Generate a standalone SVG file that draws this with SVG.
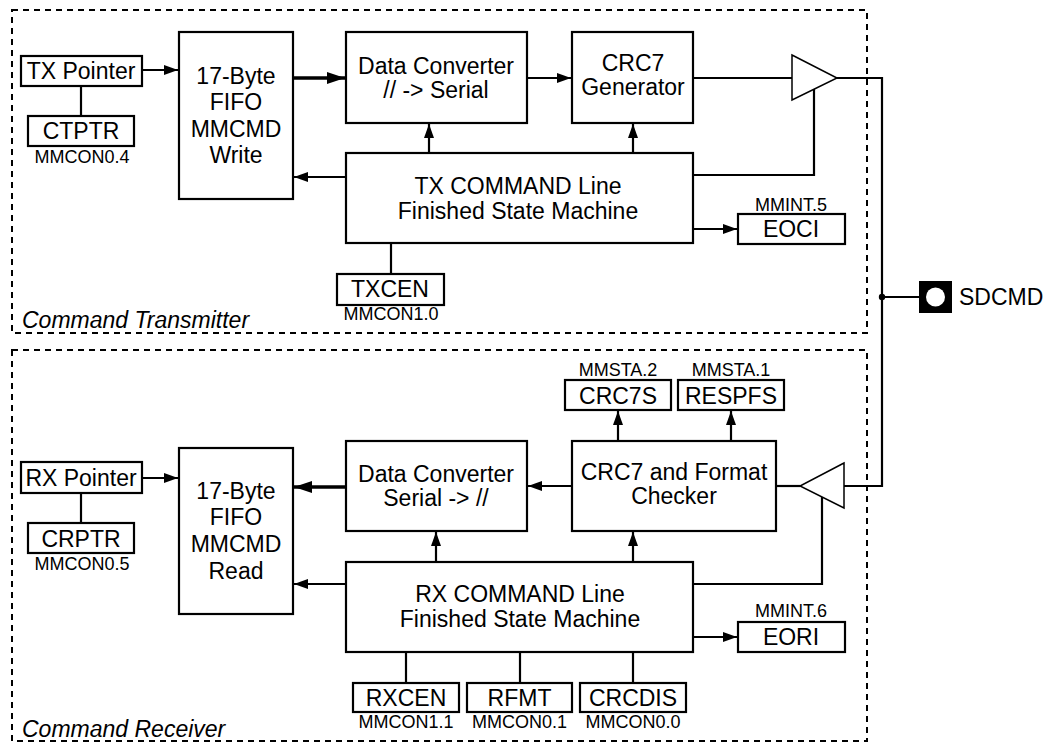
<svg xmlns="http://www.w3.org/2000/svg" width="1058" height="743" viewBox="0 0 1058 743">
<style>
text{font-family:"Liberation Sans",Arial,sans-serif;fill:#000;text-anchor:middle}
.m{font-size:23px}
.s{font-size:18px}
.i{font-size:23px;font-style:italic;text-anchor:start}
.box{fill:#fff;stroke:#000;stroke-width:2.2}
.dash{fill:none;stroke:#000;stroke-width:2;stroke-dasharray:6 5}
.w{fill:none;stroke:#000;stroke-width:2.2}
.t{fill:none;stroke:#000;stroke-width:3.6}
.a{marker-end:url(#arr)}
.ab{marker-end:url(#arrB)}
</style>
<defs>
<marker id="arr" markerUnits="userSpaceOnUse" markerWidth="14" markerHeight="10" refX="14" refY="5" orient="auto"><path d="M0,0 L14,5 L0,10 z" fill="#000"/></marker>
<marker id="arrB" markerUnits="userSpaceOnUse" markerWidth="18" markerHeight="12" refX="18" refY="6" orient="auto"><path d="M0,0 L18,6 L0,12 z" fill="#000"/></marker>
</defs>
<rect fill="#fff" width="1058" height="743"/>
<g id="regions">
<rect class="dash" x="12" y="10" width="855" height="323"/>
<rect class="dash" x="12" y="350" width="855" height="391"/>
<text class="i" x="22" y="328">Command Transmitter</text>
<text class="i" x="22" y="737">Command Receiver</text>
</g>
<g id="connectors">
<path class="w a" d="M142,70 H178"/>
<path class="t ab" d="M293,78 H345"/>
<path class="w a" d="M527,78 H571"/>
<path class="w" d="M693,78 H792"/>
<path class="w" d="M837,78 H882 V486 H844"/>
<path class="w" d="M814,89 V175 H693"/>
<path class="w a" d="M429,153 V124"/>
<path class="w a" d="M633,153 V124"/>
<path class="w a" d="M346,177 H294"/>
<path class="w a" d="M693,229 H737"/>
<path class="w" d="M391,243 V274"/>
<path class="w" d="M81,86 V116"/>
<path class="w" d="M882,297 H919"/>
<circle cx="882" cy="297" r="3.2" fill="#000"/>
<path class="w a" d="M142,478 H178"/>
<path class="t ab" d="M346,487 H294"/>
<path class="w a" d="M572,486 H528"/>
<path class="w" d="M776,486 H800"/>
<path class="w" d="M822,497 V584 H693"/>
<path class="w a" d="M346,584 H294"/>
<path class="w a" d="M436,562 V532"/>
<path class="w a" d="M633,562 V532"/>
<path class="w a" d="M618,441 V411"/>
<path class="w a" d="M731,441 V411"/>
<path class="w a" d="M693,637 H737"/>
<path class="w" d="M406,652 V683"/>
<path class="w" d="M520,652 V683"/>
<path class="w" d="M633,652 V683"/>
<path class="w" d="M81,493 V523"/>
</g>
<g id="tx-pointer"><rect class="box" x="21" y="56" width="121" height="30"/><text class="m" x="81" y="79">TX Pointer</text></g>
<g id="ctptr"><rect class="box" x="28" y="116" width="106" height="30"/><text class="m" x="81" y="139">CTPTR</text><text class="s" x="82" y="163">MMCON0.4</text></g>
<g id="fifo-write"><rect class="box" x="179" y="32" width="114" height="167"/><text class="m" x="236" y="84">17-Byte</text><text class="m" x="236" y="110">FIFO</text><text class="m" x="236" y="137">MMCMD</text><text class="m" x="236" y="163">Write</text></g>
<g id="tx-converter"><rect class="box" x="346" y="32" width="181" height="91"/><text class="m" x="436" y="74">Data Converter</text><text class="m" x="436" y="98">// -&gt; Serial</text></g>
<g id="crc7-gen"><rect class="box" x="572" y="32" width="121" height="91"/><text class="m" x="633" y="71">CRC7</text><text class="m" x="633" y="95">Generator</text></g>
<g id="tx-buffer"><polygon points="792,55 837,78 792,100" fill="#fff" stroke="#000" stroke-width="1.5"/></g>
<g id="tx-fsm"><rect class="box" x="346" y="153" width="347" height="90"/><text class="m" x="518" y="194">TX COMMAND Line</text><text class="m" x="518" y="219">Finished State Machine</text></g>
<g id="eoci"><rect class="box" x="738" y="214" width="107" height="30"/><text class="m" x="791" y="237">EOCI</text><text class="s" x="791" y="211">MMINT.5</text></g>
<g id="txcen"><rect class="box" x="337" y="274" width="107" height="31"/><text class="m" x="390" y="297">TXCEN</text><text class="s" x="391" y="320">MMCON1.0</text></g>
<g id="sdcmd"><rect x="919" y="281" width="33" height="32" fill="#000"/><circle cx="935.5" cy="297" r="9.5" fill="#fff"/><text class="m" x="959" y="305" style="text-anchor:start">SDCMD</text></g>
<g id="rx-pointer"><rect class="box" x="21" y="462" width="121" height="31"/><text class="m" x="81" y="486">RX Pointer</text></g>
<g id="crptr"><rect class="box" x="28" y="523" width="106" height="30"/><text class="m" x="81" y="547">CRPTR</text><text class="s" x="82" y="570">MMCON0.5</text></g>
<g id="fifo-read"><rect class="box" x="179" y="448" width="114" height="166"/><text class="m" x="236" y="499">17-Byte</text><text class="m" x="236" y="525">FIFO</text><text class="m" x="236" y="552">MMCMD</text><text class="m" x="236" y="579">Read</text></g>
<g id="rx-converter"><rect class="box" x="346" y="441" width="181" height="90"/><text class="m" x="436" y="482">Data Converter</text><text class="m" x="436" y="506">Serial -&gt; //</text></g>
<g id="crc7-check"><rect class="box" x="572" y="441" width="204" height="90"/><text class="m" x="674" y="480">CRC7 and Format</text><text class="m" x="674" y="504">Checker</text></g>
<g id="crc7s"><rect class="box" x="565" y="380" width="106" height="30"/><text class="m" x="618" y="404">CRC7S</text><text class="s" x="618" y="376">MMSTA.2</text></g>
<g id="respfs"><rect class="box" x="678" y="380" width="106" height="30"/><text class="m" x="731" y="404">RESPFS</text><text class="s" x="731" y="376">MMSTA.1</text></g>
<g id="rx-buffer"><polygon points="844,463 800,486 844,508" fill="#fff" stroke="#000" stroke-width="1.5"/></g>
<g id="rx-fsm"><rect class="box" x="346" y="562" width="347" height="90"/><text class="m" x="520" y="602">RX COMMAND Line</text><text class="m" x="520" y="627">Finished State Machine</text></g>
<g id="eori"><rect class="box" x="738" y="622" width="107" height="30"/><text class="m" x="791" y="645">EORI</text><text class="s" x="791" y="617">MMINT.6</text></g>
<g id="rxcen"><rect class="box" x="353" y="683" width="106" height="29"/><text class="m" x="406" y="706">RXCEN</text><text class="s" x="406" y="728">MMCON1.1</text></g>
<g id="rfmt"><rect class="box" x="467" y="683" width="105" height="29"/><text class="m" x="519.5" y="706">RFMT</text><text class="s" x="519.5" y="728">MMCON0.1</text></g>
<g id="crcdis"><rect class="box" x="580" y="683" width="106" height="29"/><text class="m" x="633" y="706">CRCDIS</text><text class="s" x="633" y="728">MMCON0.0</text></g>
</svg>
